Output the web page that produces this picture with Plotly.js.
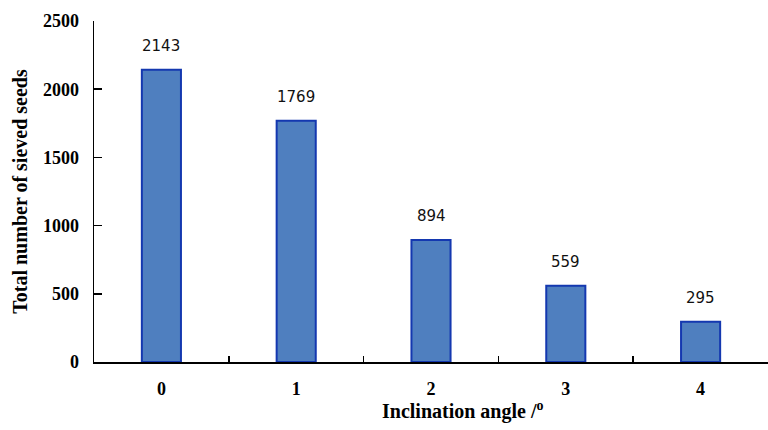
<!DOCTYPE html>
<html>
<head>
<meta charset="utf-8">
<script src="https://cdn.plot.ly/plotly-3.0.1.min.js"></script>
<style>
  html, body { margin: 0; padding: 0; background: #fff; }
  #chart { width: 768px; height: 430px; }
</style>
</head>
<body>
<div id="chart"></div>
<script>
// Sieved seed counts per inclination angle
const angles = ['0', '1', '2', '3', '4'];
const seedCounts = [2143, 1769, 894, 559, 295];
const yTicks = [0, 500, 1000, 1500, 2000, 2500];

const serif = 'Liberation Serif, Times New Roman, serif';

const trace = {
  type: 'bar',
  x: angles,
  y: seedCounts,
  width: 0.29,
  marker: {
    color: '#4f7fbf',
    line: { color: '#1438b0', width: 2 }
  },
  hoverinfo: 'skip'
};

// Value labels sit above each bar
const labels = angles.map((a, i) => ({
  x: a,
  y: seedCounts[i],
  text: String(seedCounts[i]),
  showarrow: false,
  yanchor: 'bottom',
  yshift: 13,
  font: { family: 'DejaVu Sans, Verdana, sans-serif', size: 15, color: '#111' }
}));

// x-axis caption, set a little right of the plot centre
labels.push({
  xref: 'paper',
  yref: 'paper',
  x: 0.546,
  y: -0.141,
  xanchor: 'center',
  yanchor: 'middle',
  showarrow: false,
  text: 'Inclination angle /<sup>o</sup>',
  font: { family: serif, size: 20, color: '#000', weight: 'bold' }
});

const layout = {
  width: 768,
  height: 430,
  margin: { l: 94, r: 0, t: 21, b: 68 },
  paper_bgcolor: '#fff',
  plot_bgcolor: '#fff',
  showlegend: false,
  bargap: 0.71,
  xaxis: {
    type: 'category',
    range: [-0.5, 4.5],
    showline: true,
    linecolor: '#000',
    linewidth: 1.5,
    ticks: 'inside',
    tickson: 'boundaries',
    ticklen: 6,
    tickcolor: '#000',
    tickwidth: 1.5,
    ticklabelstandoff: 10,
    showgrid: false,
    zeroline: false,
    tickfont: { family: serif, size: 18, color: '#000', weight: 'bold' }
  },
  yaxis: {
    range: [0, 2500],
    tickvals: yTicks,
    showline: true,
    linecolor: '#000',
    linewidth: 1.5,
    ticks: 'inside',
    ticklen: 8,
    tickcolor: '#000',
    tickwidth: 1.5,
    ticklabelstandoff: 10,
    showgrid: false,
    zeroline: false,
    tickfont: { family: serif, size: 18, color: '#000', weight: 'bold' },
    title: {
      text: 'Total number of sieved seeds',
      font: { family: serif, size: 20, color: '#000', weight: 'bold' },
      standoff: 10
    }
  },
  annotations: labels
};

Plotly.newPlot('chart', [trace], layout, { displayModeBar: false, staticPlot: true });
</script>
</body>
</html>
